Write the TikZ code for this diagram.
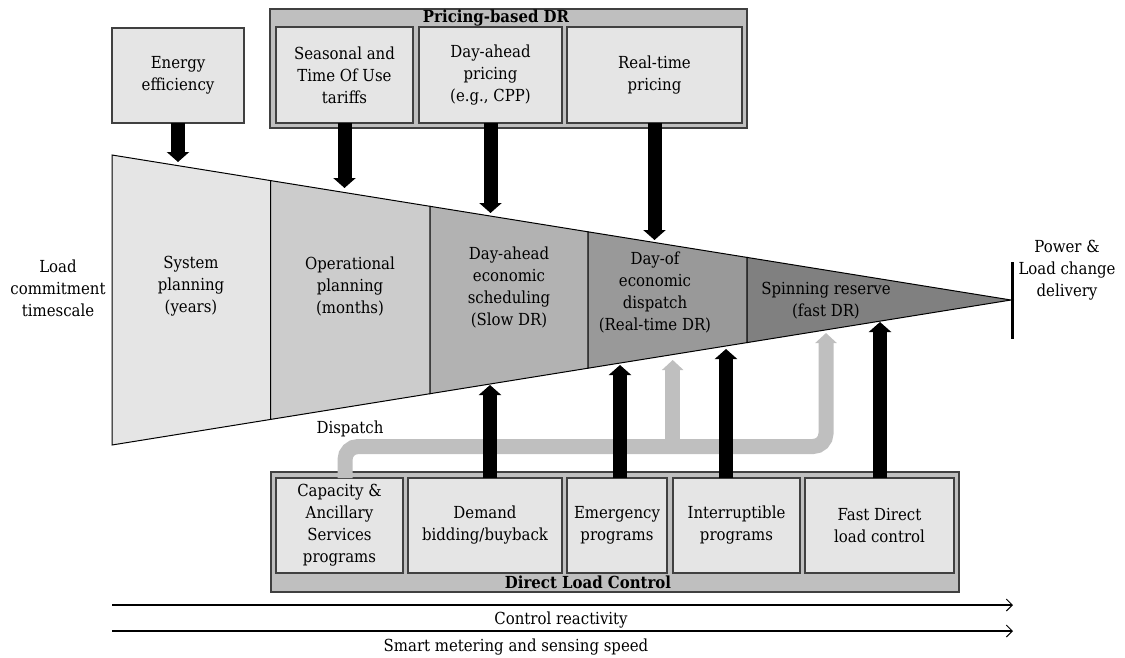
\documentclass[tikz,border=0pt]{standalone}
\usepackage{fontspec}
\setmainfont{DejaVu Serif Condensed}
\usetikzlibrary{arrows.meta}
\definecolor{boxfill}{gray}{0.9}
\definecolor{outerfill}{gray}{0.75}
\definecolor{edgecol}{gray}{0.25}
\definecolor{dispgray}{gray}{0.75}
\definecolor{secA}{gray}{0.9}
\definecolor{secB}{gray}{0.8}
\definecolor{secC}{gray}{0.7}
\definecolor{secD}{gray}{0.6}
\definecolor{secE}{gray}{0.5}
\begin{document}
\begin{tikzpicture}[x=1pt,y=-1pt,
  font=\fontsize{16.6}{22}\selectfont,
  ibox/.style={draw=edgecol, line width=1.2pt, fill=boxfill, inner sep=0pt, outer sep=0pt, align=center, anchor=north west},
  obox/.style={draw=edgecol, line width=1.2pt, fill=outerfill, inner sep=0pt, outer sep=0pt, anchor=north west},
  bigarrow/.style={line width=14pt, -{Triangle[length=10pt,width=22pt]}},
  grayarrow/.style={draw=dispgray, line width=15pt, -{Triangle[length=10pt,width=21pt]}},
  sect/.style={draw=black, line width=1pt},
  txt/.style={align=center, inner sep=0pt},
  axisarrow/.style={line width=2pt, -{Straight Barb[length=6pt,width=12pt,line width=1pt]}}
]
\useasboundingbox (0,0) rectangle (1125,657);

% ---------- funnel ----------
\filldraw[sect, fill=secA] (112,155) -- (270.7,180.6) -- (270.7,419.4) -- (112,445) -- cycle;
\filldraw[sect, fill=secB] (270.7,180.6) -- (430,206.3) -- (430,393.7) -- (270.7,419.4) -- cycle;
\filldraw[sect, fill=secC] (430,206.3) -- (588,231.8) -- (588,368.2) -- (430,393.7) -- cycle;
\filldraw[sect, fill=secD] (588,231.8) -- (747,257.4) -- (747,342.6) -- (588,368.2) -- cycle;
\filldraw[sect, fill=secE] (747,257.4) -- (1011,300) -- (747,342.6) -- cycle;
\draw[line width=3pt] (1012,262) -- (1012,339);

\node[txt] (sys) at (191,286) {System\\planning\\(years)};
\node[txt] (oper) at (350,286) {Operational\\planning\\(months)};
\node[txt] (dayah) at (509,287) {Day-ahead\\economic\\scheduling\\(Slow DR)};
\node[txt] (dayof) at (655,292) {Day-of\\economic\\dispatch\\(Real-time DR)};
\node[txt] (spin) at (826,301) {Spinning reserve\\(fast DR)};
\node[txt] (loadc) at (58,288) {Load\\commitment\\timescale};
\node[txt] (power) at (1067,270) {Power \&\\Load change\\delivery};

% ---------- pricing-based DR ----------
\node[ibox, minimum width=132pt, minimum height=95pt] (energy) at (112,28) {Energy\\efficiency};
\node[obox, minimum width=477pt, minimum height=119pt] (pricing) at (270,9) {};
\node[txt, font=\fontsize{16.6}{22}\selectfont\bfseries] (ptitle) at (496,18) {Pricing-based DR};
\node[ibox, minimum width=137pt, minimum height=96pt] (seas) at (276,27) {Seasonal and\\Time Of Use\\tariffs};
\node[ibox, minimum width=143pt, minimum height=96pt] (dapr) at (419,27) {Day-ahead\\pricing\\(e.g., CPP)};
\node[ibox, minimum width=175pt, minimum height=96pt] (rtpr) at (567,27) {Real-time\\pricing};

\coordinate (tEnergy) at (178,162);
\coordinate (tSeas) at (344.5,188);
\coordinate (tDapr) at (490.5,213);
\coordinate (tRtpr) at (654.5,240);
\draw[bigarrow] (energy.south) -- (tEnergy);
\draw[bigarrow] (seas.south) -- (tSeas);
\draw[bigarrow] (dapr.south) -- (tDapr);
\draw[bigarrow] (rtpr.south) -- (tRtpr);

% ---------- direct load control ----------
\node[obox, minimum width=688pt, minimum height=120pt] (dlc) at (271,472) {};
\node[txt, font=\fontsize{16.6}{22}\selectfont\bfseries] (dtitle) at (588,582) {Direct Load Control};
\node[ibox, minimum width=127pt, minimum height=95pt] (cap) at (276,478) {Capacity \&\\Ancillary\\Services\\programs};
\node[ibox, minimum width=154pt, minimum height=95pt] (dem) at (408,478) {Demand\\bidding/buyback};
\node[ibox, minimum width=100pt, minimum height=95pt] (emer) at (567,478) {Emergency\\programs};
\node[ibox, minimum width=127pt, minimum height=95pt] (intr) at (673,478) {Interruptible\\programs};
\node[ibox, minimum width=149pt, minimum height=95pt] (fast) at (805,478) {Fast Direct\\load control};

% dispatch (gray)
\coordinate (gStart) at (345,478);
\coordinate (gTip) at (826,333);
\coordinate (gBranch) at (672.7,446.5);
\coordinate (gTip2) at (672.7,360);
\draw[grayarrow, rounded corners=13pt] (gStart) -- (345,446.5) -- (826,446.5) -- (gTip);
\draw[grayarrow] (gBranch) -- (gTip2);
\node[txt] (disp) at (350,429) {Dispatch};

% black upward arrows
\coordinate (tDem) at (490,385);
\coordinate (tEmer) at (620,365);
\coordinate (tIntr) at (726,349);
\coordinate (tFast) at (880,322);
\draw[bigarrow] (tDem |- dem.north) -- (tDem);
\draw[bigarrow] (tEmer |- emer.north) -- (tEmer);
\draw[bigarrow] (tIntr |- intr.north) -- (tIntr);
\draw[bigarrow] (tFast |- fast.north) -- (tFast);

% ---------- bottom axes ----------
\coordinate (a1s) at (112,605);
\coordinate (a1e) at (1013,605);
\coordinate (a2s) at (112,631);
\coordinate (a2e) at (1013,631);
\draw[axisarrow] (a1s) -- (a1e);
\draw[axisarrow] (a2s) -- (a2e);
\node[txt] (ctrl) at (561,620) {Control reactivity};
\node[txt] (smart) at (516,647) {Smart metering and sensing speed};
\end{tikzpicture}
\end{document}
